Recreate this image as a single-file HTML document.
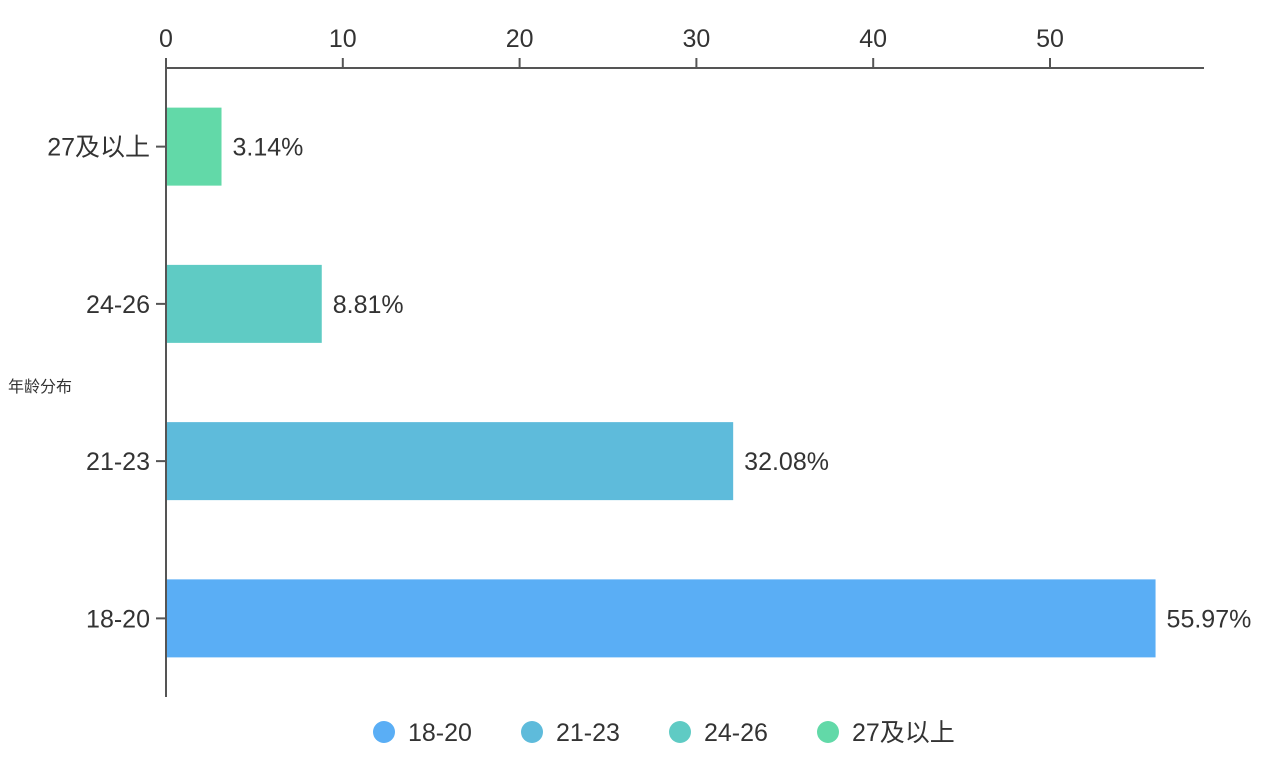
<!DOCTYPE html>
<html><head><meta charset="utf-8"><style>
body{margin:0;background:#fff;}
svg text{font-family:"Liberation Sans","Noto Sans CJK SC",sans-serif;fill:#333;}
</style></head><body>
<svg id="chart" width="1269" height="766" xmlns="http://www.w3.org/2000/svg"></svg>
<script>
const categories = ["18-20","21-23","24-26","27及以上"];
const values = [55.97, 32.08, 8.81, 3.14];
const labels = ["55.97%","32.08%","8.81%","3.14%"];
const ticks = [0,10,20,30,40,50];
const colors = ["#5aaef5","#5ebbdb","#5fcbc4","#62d9a8"];

const NS="http://www.w3.org/2000/svg";
const svg=document.getElementById('chart');
const x0=166, xMaxPx=1204, pxPerUnit=17.68, yTop=68, yBot=697;
const band=(yBot-yTop)/categories.length, barH=78;
const xs=v=>x0+v*pxPerUnit;
const yc=i=>yBot-band*(i+0.5);
function mk(tag,attrs,text){const e=document.createElementNS(NS,tag);for(const k in attrs)e.setAttribute(k,attrs[k]);if(text!==undefined)e.textContent=text;svg.appendChild(e);return e;}

let e=mk('line',{x1:x0,y1:yTop,x2:xMaxPx,y2:yTop,stroke:'#555','stroke-width':2});


e=mk('line',{x1:x0,y1:58,x2:x0,y2:yBot,stroke:'#555','stroke-width':2});



ticks.forEach(t=>{
  let l=mk('line',{x1:xs(t),y1:58,x2:xs(t),y2:yTop,stroke:'#555','stroke-width':2});
  
  
  let tx=mk('text',{x:xs(t),y:47,'font-size':25,'text-anchor':'middle'},String(t));
  
  
});

categories.forEach((c,i)=>{
  const y=yc(i);
  let l=mk('line',{x1:x0-10,y1:y,x2:x0,y2:y,stroke:'#555','stroke-width':2});
  
  
  let t=mk('text',{x:150,y:y+9,'font-size':25,'text-anchor':'end'},c);
  
  
  let r=mk('rect',{x:x0+1,y:y-barH/2,width:xs(values[i])-x0-1,height:barH,fill:colors[i]});
  
  
  let v=mk('text',{x:xs(values[i])+11,y:y+9,'font-size':25},labels[i]);
  
  
});

e=mk('text',{x:8,y:392,'font-size':16},'年龄分布');



categories.forEach((c,i)=>{
  const lx=384+i*148;
  let ci=mk('circle',{cx:lx,cy:732,r:11,fill:colors[i]});
  
  
  let t=mk('text',{x:lx+24,y:741,'font-size':25},c);
  
  
});
</script>
</body></html>
